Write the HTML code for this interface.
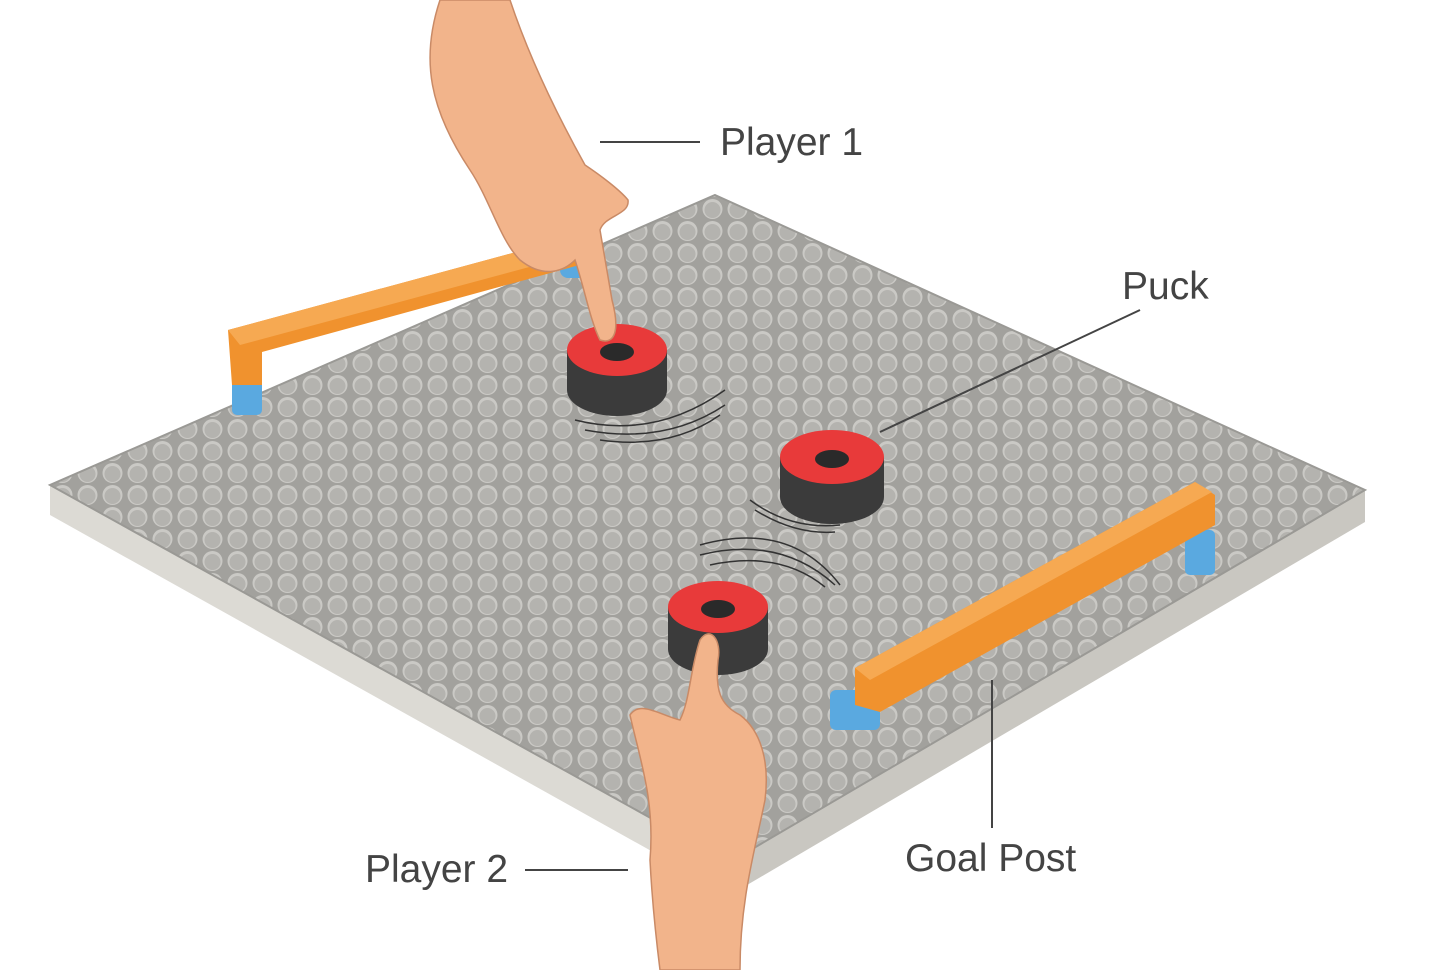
<!DOCTYPE html>
<html><head><meta charset="utf-8"><style>
html,body{margin:0;padding:0;background:#fff;}
svg{display:block}
text{font-family:"Liberation Sans",sans-serif;fill:#444;font-size:39px}
</style></head><body>
<svg width="1445" height="970" viewBox="0 0 1445 970" xmlns="http://www.w3.org/2000/svg">
<defs>
<pattern id="holes" width="25" height="22" patternUnits="userSpaceOnUse">
<rect width="25" height="22" fill="#a2a19d"/>
<circle cx="12.5" cy="11" r="10" fill="#cac9c5"/>
<circle cx="12.5" cy="12" r="8" fill="#b4b3af"/>
</pattern>
<clipPath id="top"><polygon points="715,195 1365,490 730,862 50,485"/></clipPath>
</defs>
<polygon points="50,485 730,862 730,895 50,515" fill="#dcdad4"/>
<polygon points="730,862 1365,490 1365,522 730,895" fill="#c9c7c1"/>
<polygon points="715,195 1365,490 730,862 50,485" fill="#a2a19d"/>
<rect x="0" y="150" width="1445" height="760" fill="url(#holes)" clip-path="url(#top)"/>
<polygon points="715,195 1365,490 730,862 50,485" fill="none" stroke="#9a9995" stroke-width="2"/>

<rect x="232" y="375" width="30" height="40" rx="5" fill="#5aa9e0"/>
<rect x="560" y="250" width="40" height="28" rx="8" fill="#5aa9e0"/>
<polygon points="228,330 590,232 605,258 262,352 262,385 232,385" fill="#f0922e"/>
<polygon points="228,330 590,232 600,248 240,345" fill="#f6a952"/>
<rect x="1185" y="530" width="30" height="45" rx="5" fill="#5aa9e0"/>
<rect x="830" y="690" width="50" height="40" rx="6" fill="#5aa9e0"/>
<polygon points="855,668 1195,482 1215,495 1215,525 880,712 855,705" fill="#f0922e"/>
<polygon points="855,668 1195,482 1212,492 870,680" fill="#f6a952"/>

<g>
<path d="M567,350 v40 a50,26 0 0 0 100,0 v-40 z" fill="#3b3b3b"/>
<ellipse cx="617" cy="350" rx="50" ry="26" fill="#e83a3a"/>
<ellipse cx="617" cy="352" rx="17" ry="9" fill="#2a2a2a"/>
</g>
<g>
<path d="M780,457 v40 a52,27 0 0 0 104,0 v-40 z" fill="#3b3b3b"/>
<ellipse cx="832" cy="457" rx="52" ry="27" fill="#e83a3a"/>
<ellipse cx="832" cy="459" rx="17" ry="9" fill="#2a2a2a"/>
</g>
<g>
<path d="M668,607 v42 a50,26 0 0 0 100,0 v-42 z" fill="#3b3b3b"/>
<ellipse cx="718" cy="607" rx="50" ry="26" fill="#e83a3a"/>
<ellipse cx="718" cy="609" rx="17" ry="9" fill="#2a2a2a"/>
</g>
<g fill="none" stroke="#333" stroke-width="1.5">
<path d="M575,420 q80,20 150,-30"/><path d="M585,430 q80,15 140,-25"/><path d="M600,440 q70,10 120,-25"/>
<path d="M750,500 q40,30 90,25"/><path d="M755,510 q40,25 80,22"/>
<path d="M700,555 q80,-20 135,30"/><path d="M710,565 q70,-15 115,22"/><path d="M700,545 q90,-25 140,40"/>
</g>

<path d="M440,0 C420,60 430,110 470,170 C490,200 500,240 520,260 C545,280 565,270 575,260 C585,290 590,320 600,340 C615,345 620,330 612,300 L600,230 C605,215 630,215 628,200 C620,190 600,175 585,165 C560,120 530,60 510,0 Z" fill="#f2b48b" stroke="#c98a66" stroke-width="1.5"/>
<path d="M660,970 L740,970 C740,900 755,850 765,800 C770,760 760,730 740,715 C720,705 715,690 718,660 C722,640 710,625 700,640 C690,670 690,700 680,720 C660,715 640,700 630,715 C640,760 655,800 650,860 C652,900 655,930 660,970 Z" fill="#f2b48b" stroke="#c98a66" stroke-width="1.5"/>

<line x1="600" y1="142" x2="700" y2="142" stroke="#444" stroke-width="2"/>
<text x="720" y="155">Player 1</text>
<line x1="1140" y1="310" x2="880" y2="432" stroke="#444" stroke-width="2"/>
<text x="1122" y="299">Puck</text>
<line x1="992" y1="680" x2="992" y2="828" stroke="#444" stroke-width="2"/>
<text x="905" y="871">Goal Post</text>
<line x1="525" y1="870" x2="628" y2="870" stroke="#444" stroke-width="2"/>
<text x="365" y="882">Player 2</text>
</svg>
</body></html>
